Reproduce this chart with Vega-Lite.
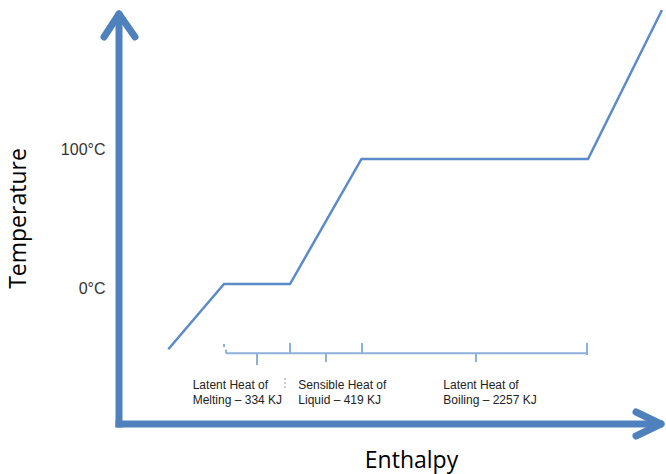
{
  "$schema": "https://vega.github.io/schema/vega-lite/v6.json",
  "width": 547,
  "height": 424,
  "autosize": {"type": "none"},
  "padding": {"left": 119, "top": 0, "right": 0, "bottom": 50},
  "background": "white",
  "config": {"view": {"stroke": null}},
  "datasets": {
    "curve": [
      {"h": 49.3, "t": -52.2},
      {"h": 105, "t": 0},
      {"h": 171, "t": 0},
      {"h": 242.5, "t": 100},
      {"h": 469, "t": 100},
      {"h": 543, "t": 219.2}
    ],
    "shafts": [
      {"h": -3.5, "t": -112, "h2": 542, "t2": -112},
      {"h": 0, "t": -114.8, "h2": 0, "t2": 216}
    ],
    "heads": [
      {"h": -15, "t": 197.6, "h2": 0, "t2": 216},
      {"h": 16, "t": 197.6, "h2": 0, "t2": 216},
      {"h": 517, "t": -102.4, "h2": 542, "t2": -112},
      {"h": 517, "t": -121.6, "h2": 542, "t2": -112}
    ],
    "braces": [
      {"h": 107, "t": -55.4, "h2": 468, "t2": -55.4},
      {"h": 105, "t": -48, "h2": 105, "t2": -50.4},
      {"h": 107, "t": -52.5, "h2": 107, "t2": -55.4},
      {"h": 171, "t": -47.2, "h2": 171, "t2": -55.4},
      {"h": 243, "t": -47.2, "h2": 243, "t2": -55.4},
      {"h": 468, "t": -47.2, "h2": 468, "t2": -56.8},
      {"h": 138, "t": -55.4, "h2": 138, "t2": -64.8},
      {"h": 207, "t": -55.4, "h2": 207, "t2": -62.4},
      {"h": 357, "t": -55.4, "h2": 357, "t2": -62.4}
    ],
    "mark": [
      {"h": 166, "t": -75.2, "h2": 166, "t2": -84.8}
    ],
    "labels": [
      {"h": 73.7, "t": -84.2, "label": "Latent Heat of\nMelting – 334 KJ"},
      {"h": 179.3, "t": -84.2, "label": "Sensible Heat of\nLiquid – 419 KJ"},
      {"h": 324.3, "t": -84.2, "label": "Latent Heat of\nBoiling – 2257 KJ"}
    ]
  },
  "encoding": {
    "x": {
      "field": "h",
      "type": "quantitative",
      "scale": {"domain": [0, 547], "nice": false, "zero": false},
      "axis": {
        "title": "Enthalpy",
        "labels": false,
        "ticks": false,
        "domain": false,
        "grid": false,
        "titleFont": "Open Sans",
        "titleFontSize": 23,
        "titleFontWeight": "normal",
        "titleColor": "#000000",
        "titleX": 292,
        "titleY": 43.5,
        "titleAlign": "center",
        "titleBaseline": "alphabetic"
      }
    },
    "y": {
      "field": "t",
      "type": "quantitative",
      "scale": {"domain": [-112, 227.2], "nice": false, "zero": false},
      "axis": {
        "title": "Temperature",
        "values": [0, 100],
        "labelExpr": "datum.value + '°C'",
        "ticks": false,
        "domain": false,
        "grid": false,
        "labelPadding": 14,
        "labelFont": "Liberation Sans",
        "labelFontSize": 16,
        "labelColor": "#333333",
        "labelBaseline": "middle",
        "labelOffset": {"condition": {"test": "datum.value == 100", "value": -10}, "value": 4},
        "titleFont": "Open Sans",
        "titleFontSize": 23,
        "titleFontWeight": "normal",
        "titleColor": "#000000",
        "titleX": -94,
        "titleY": 218,
        "titleAngle": -90,
        "titleAlign": "center",
        "titleBaseline": "alphabetic"
      }
    }
  },
  "layer": [
    {
      "data": {"name": "braces"},
      "mark": {"type": "rule", "color": "#8eaedb", "strokeWidth": 2},
      "encoding": {"x2": {"field": "h2"}, "y2": {"field": "t2"}}
    },
    {
      "data": {"name": "mark"},
      "mark": {"type": "rule", "color": "#999999", "strokeWidth": 1, "strokeDash": [2, 2]},
      "encoding": {"x2": {"field": "h2"}, "y2": {"field": "t2"}}
    },
    {
      "data": {"name": "curve"},
      "mark": {"type": "line", "color": "#5b8bcb", "strokeWidth": 2.5},
      "encoding": {}
    },
    {
      "data": {"name": "shafts"},
      "mark": {"type": "rule", "color": "#4f81bd", "strokeWidth": 7, "strokeCap": "butt"},
      "encoding": {"x2": {"field": "h2"}, "y2": {"field": "t2"}}
    },
    {
      "data": {"name": "heads"},
      "mark": {"type": "rule", "color": "#4f81bd", "strokeWidth": 7, "strokeCap": "round"},
      "encoding": {"x2": {"field": "h2"}, "y2": {"field": "t2"}}
    },
    {
      "data": {"name": "labels"},
      "mark": {
        "type": "text",
        "align": "left",
        "baseline": "alphabetic",
        "lineBreak": "\n",
        "lineHeight": 15,
        "font": "Liberation Sans",
        "fontSize": 12,
        "color": "#222222"
      },
      "encoding": {"text": {"field": "label"}}
    }
  ]
}
